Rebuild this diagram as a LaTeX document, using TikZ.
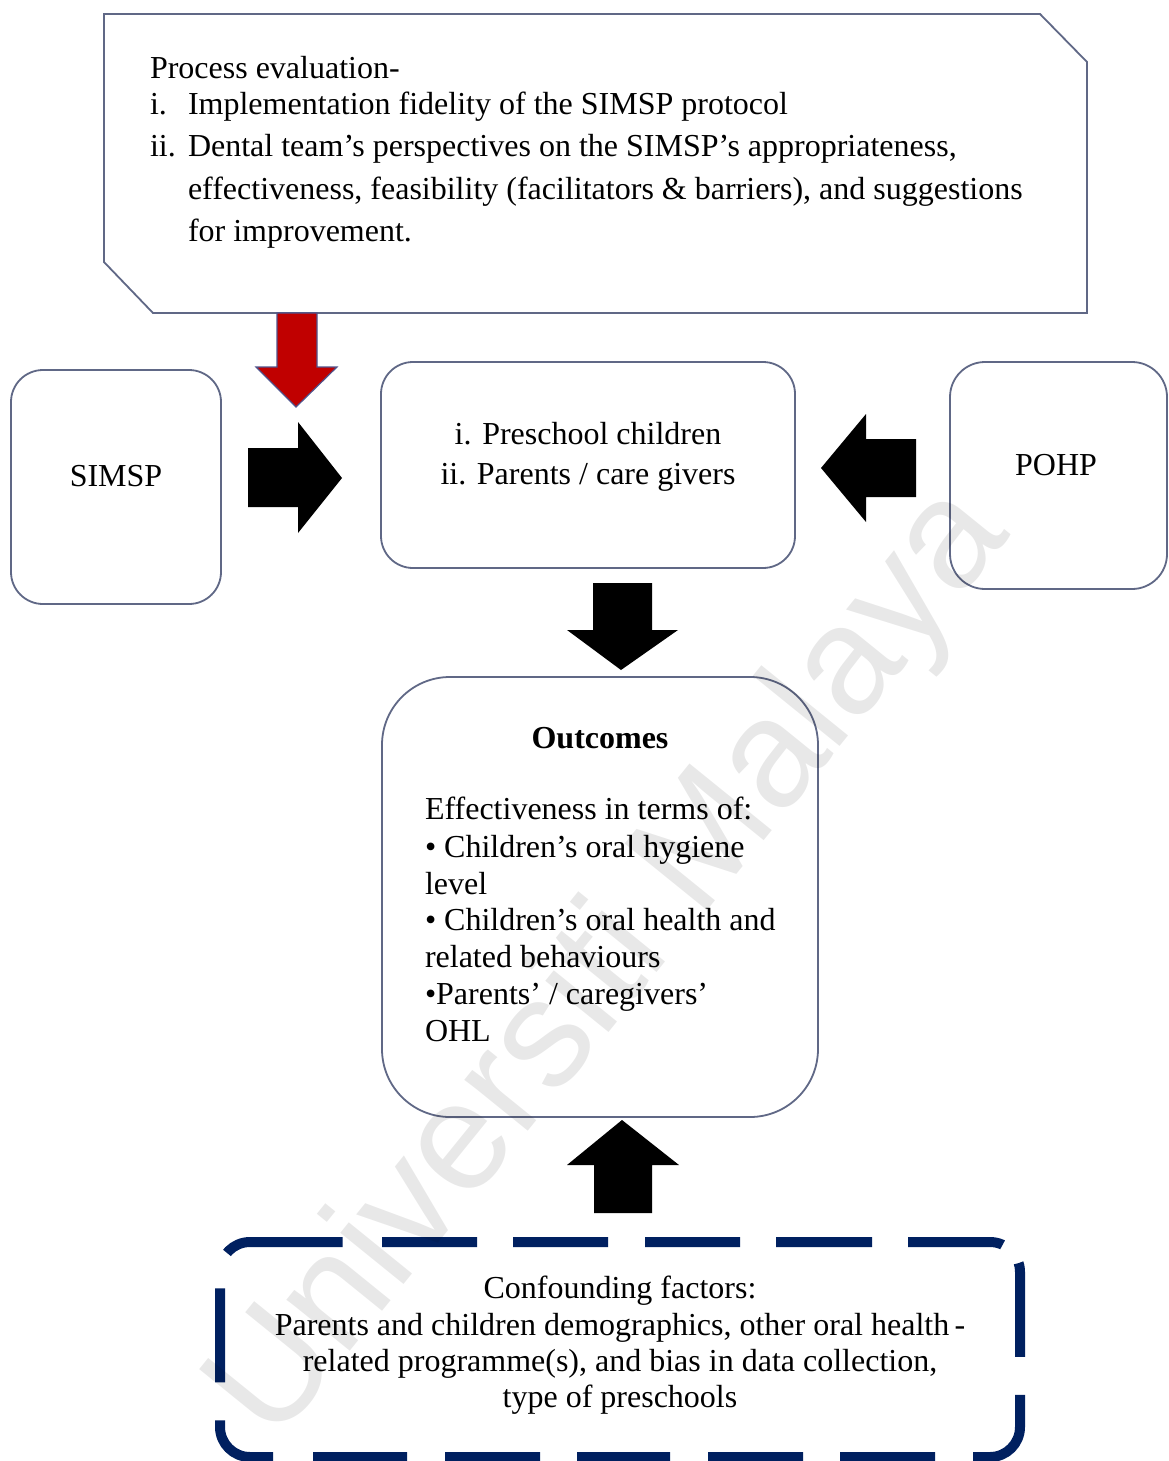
\documentclass[tikz,border=0pt]{standalone}
\usepackage{fontspec}
\setmainfont{Liberation Serif}
\setsansfont{Liberation Sans}
\definecolor{edgegray}{RGB}{96,104,134}
\definecolor{arrowred}{RGB}{192,0,0}
\definecolor{arrowrim}{RGB}{80,84,140}
\definecolor{navy}{RGB}{0,32,96}
\begin{document}
\begin{tikzpicture}[x=1pt,y=-1pt,
  every node/.style={inner sep=0pt, outer sep=0pt},
  txt/.style={font=\fontsize{32}{40}\selectfont, text=black},
  lefttxt/.style={txt, anchor=base west},
  midtxt/.style={txt, anchor=base},
  panel/.style={draw=edgegray, line width=1.8pt, fill=white},
  blockarrow/.style={fill=black, draw=none},
  redarrow/.style={fill=arrowred, draw=arrowrim, line width=1.2pt, line join=miter},
  confborder/.style={draw=navy, line width=10pt, rounded corners=30pt,
    dash pattern=on 95pt off 36pt on 95pt off 37pt on 95pt off 36pt on 96pt off 36pt
      on 95pt off 25pt on 94pt off 38pt on 96pt off 38pt on 95pt off 37pt
      on 95pt off 38pt on 93pt off 37pt on 95pt off 38pt on 94pt off 40pt
      on 77pt off 38pt on 94pt off 37pt on 119pt off 39pt,
    dash phase=1958pt}
]
\useasboundingbox[fill=white] (0,0) rectangle (1168,1461);

% process evaluation panel with two snipped corners
\coordinate (pe-nw) at (104,14);
\coordinate (pe-se) at (1087,313);
\draw[panel] (104,14) -- (1040,14) -- (1087,62) -- (1087,313)
  -- (153,313) -- (104,262) -- cycle;
\node[lefttxt] (pe0) at (150,79) {Process evaluation-};
\node[lefttxt] (pe1n) at (150,115) {i.};
\node[lefttxt] (pe1) at (188,115) {Implementation fidelity of the SIMSP protocol};
\node[lefttxt] (pe2n) at (150,157) {ii.};
\node[lefttxt] (pe2) at (188,157) {Dental team’s perspectives on the SIMSP’s appropriateness,};
\node[lefttxt] (pe3) at (188,199) {effectiveness, feasibility (facilitators \& barriers), and suggestions};
\node[lefttxt] (pe4) at (188,241) {for improvement.};

% rounded boxes
\node[panel, rounded corners=32pt, minimum width=210pt, minimum height=234pt] (simsp) at (116,487) {};
\node[panel, rounded corners=32pt, minimum width=414pt, minimum height=206pt] (target) at (588,465) {};
\node[panel, rounded corners=35pt, minimum width=217pt, minimum height=227pt] (pohp) at (1058.5,475.5) {};
\node[panel, rounded corners=68pt, minimum width=436pt, minimum height=440pt] (outc) at (600,897) {};

\node[midtxt] (simsp-t) at (116,486) {SIMSP};
\node[midtxt] (pohp-t) at (1056,475) {POHP};
\node[midtxt] (target-t1) at (588,444) {i. Preschool children};
\node[midtxt] (target-t2) at (588,484) {ii. Parents / care givers};

\node[midtxt, font=\bfseries\fontsize{32}{40}\selectfont] (outc-h) at (600,748) {Outcomes};
\node[lefttxt] (outc-1) at (425,819) {Effectiveness in terms of:};
\node[lefttxt] (outc-2) at (425,857) {• Children’s oral hygiene};
\node[lefttxt] (outc-3) at (425,894) {level};
\node[lefttxt] (outc-4) at (425,930) {• Children’s oral health and};
\node[lefttxt] (outc-5) at (425,967) {related behaviours};
\node[lefttxt] (outc-6) at (425,1004) {•Parents’ / caregivers’};
\node[lefttxt] (outc-7) at (425,1041) {OHL};

% confounding factors, dashed frame
\node[minimum width=800pt, minimum height=215pt] (conf) at (620,1349.5) {};
\draw[confborder] (362,1242) -- (1020,1242) -- (1020,1457) -- (220,1457)
  -- (220,1242) -- (362,1242);
\node[midtxt] (conf-1) at (620,1298) {Confounding factors:};
\node[midtxt] (conf-2) at (620,1335) {Parents and children demographics, other oral health\,-};
\node[midtxt] (conf-3) at (620,1371) {related programme(s), and bias in data collection,};
\node[midtxt] (conf-4) at (620,1407) {type of preschools};

% block arrows
\fill[blockarrow] (248,448) -- (298,448) -- (298,422) -- (342,478) -- (298,533)
  -- (298,507) -- (248,507) -- cycle;
\fill[blockarrow] (916,439) -- (866,439) -- (866,414) -- (821,468) -- (866,522)
  -- (866,497) -- (916,497) -- cycle;
\fill[blockarrow] (593,583) -- (652,583) -- (652,630) -- (678,630) -- (621,670)
  -- (567,630) -- (593,630) -- cycle;
\fill[blockarrow] (594,1213) -- (652,1213) -- (652,1165) -- (679,1165) -- (622,1120)
  -- (567,1165) -- (594,1165) -- cycle;
\draw[redarrow] (277,313) -- (317,313) -- (317,367) -- (337,367) -- (296,407)
  -- (256,367) -- (277,367) -- cycle;

% repository watermark
\node[rotate=51, font=\sffamily\fontsize{154}{154}\selectfont, text=black,
  text opacity=0.09] (wm) at (612,965) {Universiti Malaya};
\end{tikzpicture}
\end{document}
